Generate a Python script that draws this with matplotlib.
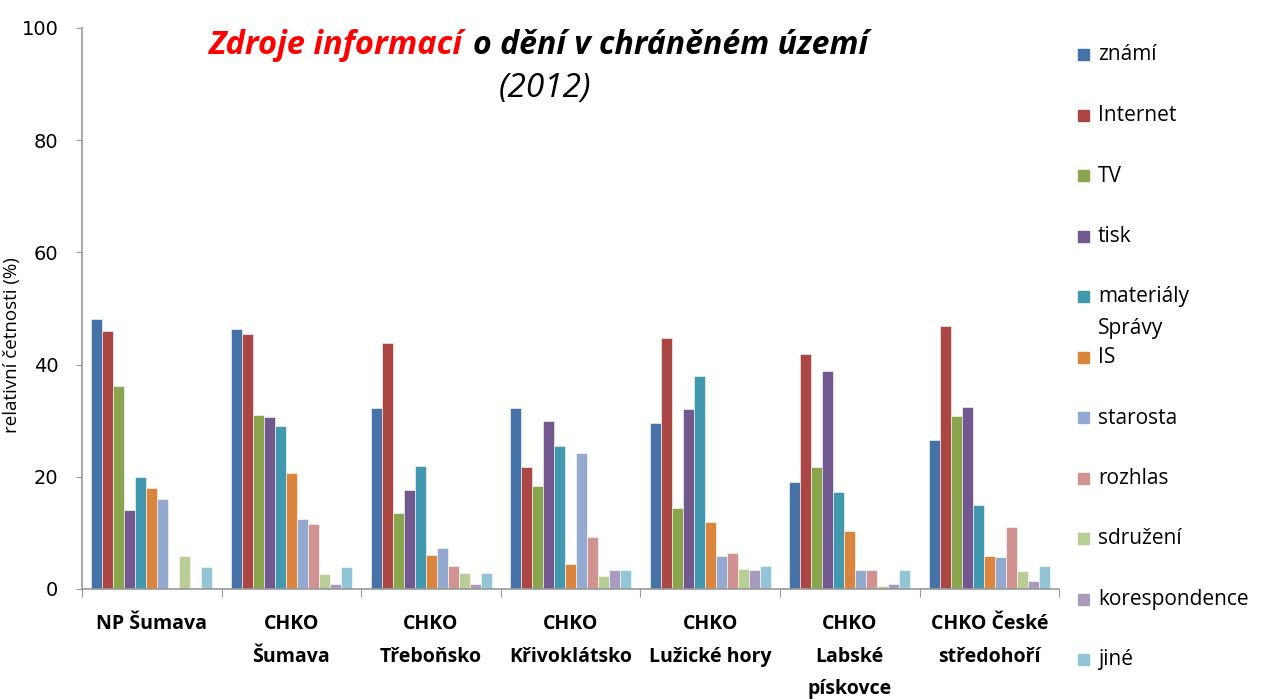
import numpy as np
import matplotlib
matplotlib.use("Agg")
import matplotlib.pyplot as plt
from matplotlib.patches import Rectangle

plt.rcParams['font.family'] = ['Open Sans', 'DejaVu Sans']

AREAS = ["NP Šumava", "CHKO\nŠumava", "CHKO\nTřeboňsko", "CHKO\nKřivoklátsko",
         "CHKO\nLužické hory", "CHKO\nLabské\npískovce", "CHKO České\nstředohoří"]
SOURCES = ["známí", "Internet", "TV", "tisk", "materiály\nSprávy", "IS", "starosta",
           "rozhlas", "sdružení", "korespondence", "jiné"]
COLORS = ["#4572A7", "#AA4643", "#89A54E", "#71588F", "#4198AF", "#DB843D",
          "#93A9CF", "#D19392", "#B9CD96", "#A99BBD", "#92C5D5"]

# values per source, one entry per area (%)
znami = [48.1, 46.3, 32.3, 32.3, 29.5, 19.0, 26.5]
internet = [46.0, 45.4, 43.8, 21.7, 44.8, 41.9, 46.9]
tv = [36.2, 31.1, 13.5, 18.3, 14.4, 21.7, 30.9]
tisk = [14.0, 30.7, 17.6, 30.0, 32.1, 38.9, 32.4]
materialy = [19.9, 29.1, 22.0, 25.4, 37.9, 17.2, 14.9]
IS = [18.0, 20.6, 6.1, 4.5, 11.9, 10.3, 5.9]
starosta = [16.0, 12.4, 7.3, 24.2, 5.9, 3.3, 5.7]
rozhlas = [0.0, 11.5, 4.1, 9.2, 6.4, 3.3, 11.0]
sdruzeni = [5.9, 2.6, 2.9, 2.3, 3.65, 0.45, 3.2]
korespondence = [0.0, 0.95, 0.85, 3.4, 3.4, 0.95, 1.4]
jine = [3.9, 4.0, 2.9, 3.4, 4.1, 3.3, 4.1]
SERIES = [znami, internet, tv, tisk, materialy, IS, starosta, rozhlas,
          sdruzeni, korespondence, jine]

fig = plt.figure(figsize=(12.7, 6.99), dpi=100)
ax = fig.add_axes([0.0646, 0.1574, 0.7694, 0.8026])

n = len(SERIES)
x = np.arange(len(AREAS))
w = 0.867 / n
for i, (vals, c) in enumerate(zip(SERIES, COLORS)):
    ax.bar(x - 0.867 / 2 + (i + 0.5) * w, vals, w, color=c,
           edgecolor="white", linewidth=0.4)

ax.set_xlim(-0.5, len(AREAS) - 0.5)
ax.set_ylim(0, 100)
ax.set_yticks([0, 20, 40, 60, 80, 100])
ax.set_yticklabels([0, 20, 40, 60, 80, 100], family="DejaVu Sans")
ax.tick_params(axis="y", labelsize=14, length=4, color="#999999", pad=13)
ax.set_xticks(np.arange(len(AREAS) + 1) - 0.5)
ax.set_xticklabels([])
ax.tick_params(axis="x", which="major", length=6, color="#999999")
ax.set_xticks(x, minor=True)
ax.set_xticklabels(AREAS, minor=True, fontsize=14, fontweight="bold",
                   linespacing=1.85, va="top")
ax.tick_params(axis="x", which="minor", length=0, pad=18)
for s in ["top", "right"]:
    ax.spines[s].set_visible(False)
for s in ["left", "bottom"]:
    ax.spines[s].set_color("#999999")
    ax.spines[s].set_linewidth(1.2)
ax.set_ylabel("relativní četnosti (%)", fontsize=13.5)
ax.yaxis.set_label_coords(-0.062, 0.435)

# title
fig.text(0.3646, 0.935, "Zdroje informací", color="red", fontsize=23.5,
         fontweight="bold", style="italic", ha="right", va="center")
fig.text(0.3725, 0.935, "o dění v chráněném území", color="black", fontsize=23,
         fontweight="bold", style="italic", ha="left", va="center")
fig.text(0.429, 0.873, "(2012)", fontsize=24, style="italic", ha="center",
         va="center")

# legend
for i, (lab, c) in enumerate(zip(SOURCES, COLORS)):
    yc = 1 - (55 + i * 60.5) / 699
    fig.patches.append(Rectangle((1078 / 1270, yc - 5 / 699), 11 / 1270, 11 / 699,
                                 transform=fig.transFigure, color=c))
    for k, line in enumerate(lab.split("\n")):
        fig.text(1098 / 1270, yc - k * 32 / 699, line, fontsize=15, va="center")

fig.savefig("out.png", dpi=100)
